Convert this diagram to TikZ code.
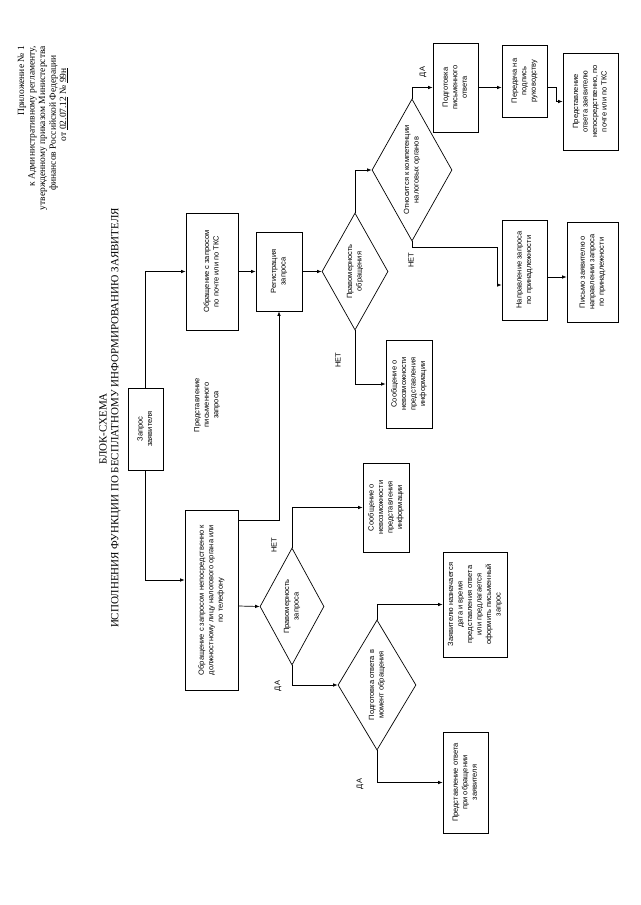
\documentclass[tikz,border=0pt]{standalone}
\usepackage{fontspec}
\setmainfont{Liberation Serif}
\setsansfont{Liberation Sans}
\usetikzlibrary{arrows.meta,shapes.geometric,calc}
\newcommand{\rt}[1]{\rotatebox{90}{\begin{tabular}{@{}c@{}}#1\end{tabular}}}
\begin{document}
\begin{tikzpicture}[x=1pt,y=-1pt,
  box/.style={draw, line width=0.7pt, inner sep=0pt, font=\sffamily\fontsize{7.5}{9.5}\selectfont},
  dia/.style={draw, diamond, line width=0.7pt, inner sep=0pt},
  dtext/.style={inner sep=0pt, font=\sffamily\fontsize{7.5}{9.5}\selectfont},
  lbl/.style={inner sep=0pt, font=\sffamily\fontsize{7.5}{9}\selectfont, rotate=90},
  hdr/.style={inner sep=0pt, font=\fontsize{9.5}{11}\selectfont, anchor=north},
  ttl/.style={inner sep=0pt, font=\fontsize{11}{13}\selectfont, rotate=90},
  arr/.style={line width=0.7pt, -{Latex[length=4.5pt,width=3.5pt]}},
]
\useasboundingbox[fill=white] (0,0) rectangle (640,905);

% header
\node[hdr] (h1) at (22,46) {\rotatebox{90}{Приложение № 1}};
\node[hdr] (h2) at (32.5,46) {\rotatebox{90}{к Административному регламенту,}};
\node[hdr] (h3) at (43,46) {\rotatebox{90}{утвержденному приказом Министерства}};
\node[hdr] (h4) at (53.5,55) {\rotatebox{90}{финансов Российской Федерации}};
\node[hdr] (h5) at (64,68) {\rotatebox{90}{от \underline{02.07.12} № \underline{99н}}};

% title
\node[ttl] (t1) at (103,429) {БЛОК-СХЕМА};
\node[ttl] (t2) at (116,418) {ИСПОЛНЕНИЯ ФУНКЦИИ ПО БЕСПЛАТНОМУ ИНФОРМИРОВАНИЮ ЗАЯВИТЕЛЯ};

% boxes
\node[box, minimum width=35pt, minimum height=82pt] (zapros) at (145.5,429) {\rt{Запрос\\заявителя}};
\node[box, minimum width=52pt, minimum height=117pt] (obrPost) at (212,271.5) {\rt{Обращение с запросом\\по почте или по ТКС}};
\node[box, minimum width=46pt, minimum height=79pt] (reg) at (279,271.5) {\rt{Регистрация\\запроса}};
\node[box, minimum width=45pt, minimum height=89pt] (podgPism) at (455.5,87.5) {\rt{Подготовка\\письменного\\ответа}};
\node[box, minimum width=45pt, minimum height=72pt] (peredacha) at (524.5,81) {\rt{Передача на\\подпись\\руководству}};
\node[box, minimum width=55pt, minimum height=97pt] (predst1) at (590.5,101.5) {\rt{Представление\\ответа заявителю\\непосредственно, по\\почте или по ТКС}};
\node[box, minimum width=45pt, minimum height=100pt] (napr) at (524.5,270) {\rt{Направление запроса\\по принадлежности}};
\node[box, minimum width=51pt, minimum height=100pt] (pismo) at (592.5,272) {\rt{Письмо заявителю о\\направлении запроса\\по принадлежности}};
\node[box, minimum width=46pt, minimum height=88pt] (soob1) at (409,384) {\rt{Сообщение о\\невозможности\\представления\\информации}};
\node[box, minimum width=53pt, minimum height=180pt] (obrNep) at (211.5,600) {\rt{Обращение с запросом непосредственно к\\должностному лицу налогового органа или\\по телефону}};
\node[box, minimum width=46pt, minimum height=89pt] (soob2) at (386,507.5) {\rt{Сообщение о\\невозможности\\представления\\информации}};
\node[box, minimum width=64pt, minimum height=105pt] (zayav) at (475,604.5) {\rt{Заявителю назначается\\дата и время\\представления ответа\\или предлагается\\оформить письменный\\запрос}};
\node[box, minimum width=45pt, minimum height=101pt] (predst2) at (465.5,782.5) {\rt{Представление ответа\\при обращении\\заявителя}};

% diamonds
\node[dia, minimum width=66pt, minimum height=117pt] (prav1) at (355,271.5) {};
\node[dtext] (prav1t) at (prav1) {\rt{Правомерность\\обращения}};
\node[dia, minimum width=80pt, minimum height=142pt] (otn) at (412,170) {};
\node[dtext] (otnt) at (otn) {\rt{Относится к компетенции\\налоговых органов}};
\node[dia, minimum width=64pt, minimum height=117pt] (prav2) at (292,606.5) {};
\node[dtext] (prav2t) at (prav2) {\rt{Правомерность\\запроса}};
\node[dia, minimum width=78pt, minimum height=130pt] (podgM) at (377,685) {};
\node[dtext] (podgMt) at (podgM) {\rt{Подготовка ответа в\\момент обращения}};

% free label
\node[dtext] (lblPred) at (207,405) {\rt{Представление\\письменного\\запроса}};

% yes / no labels
\node[lbl] (net1) at (338,360) {НЕТ};
\node[lbl] (net2) at (411,260) {НЕТ};
\node[lbl] (net3) at (274,545) {НЕТ};
\node[lbl] (da1) at (423,72) {ДА};
\node[lbl] (da2) at (278,686) {ДА};
\node[lbl] (da3) at (360,784) {ДА};

% connectors
\draw[arr] (zapros.north) |- (obrPost.west);
\draw[arr] (zapros.south) |- ([yshift=20pt]obrNep.west);
\draw[arr] (obrPost.east) -- (reg.west);
\draw[arr] (reg.east) -- (prav1.west);
\draw[arr] (prav1.north) |- (otn.west);
\draw[arr] (prav1.south) |- (soob1.west);
\draw[arr] (otn.north) |- (podgPism.west);
\draw[arr] (podgPism.east) -- (podgPism.east -| peredacha.west);
\draw[arr] (podgPism.east -| peredacha.east) -- ++(9,0) |- (predst1.west);
\draw[arr] (otn.south) |- (497,247) |- ([yshift=-15pt]napr.west);
\draw[arr] ([yshift=-7pt]napr.east) -- ([yshift=-7pt]napr.east -| pismo.west);
\draw[arr] ([yshift=80pt]obrNep.east) -| (reg.south);
\draw[arr] ([yshift=-6pt]obrNep.east) -- (prav2.west);
\draw[arr] (prav2.north) |- (soob2.west);
\draw[arr] (prav2.south) |- (podgM.west);
\draw[arr] (podgM.north) |- (zayav.west);
\draw[arr] (podgM.south) |- (predst2.west);
\end{tikzpicture}
\end{document}
